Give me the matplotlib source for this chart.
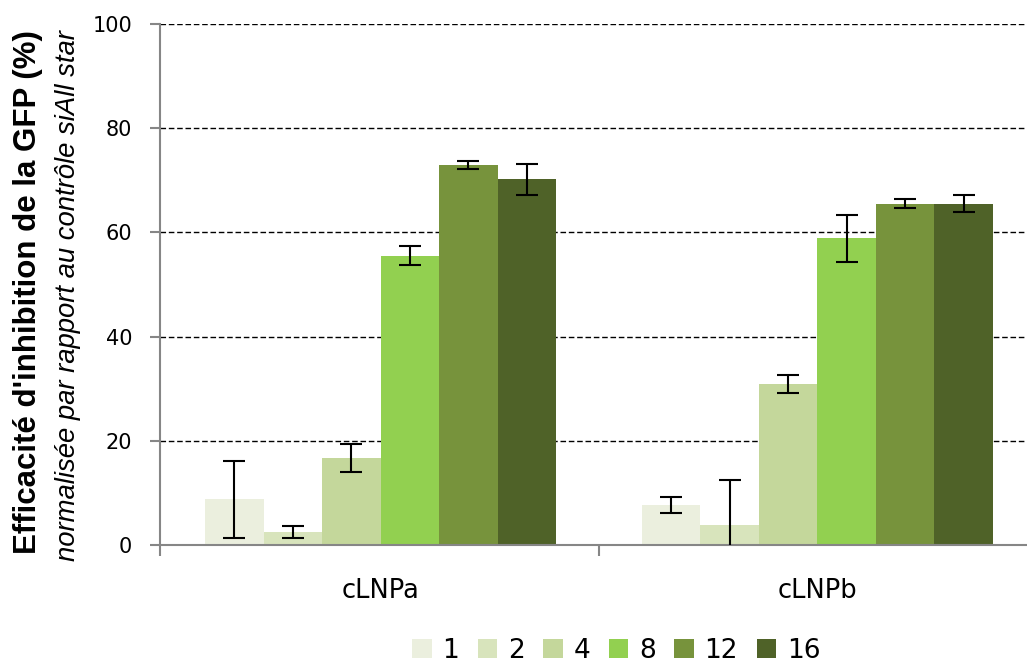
import matplotlib
matplotlib.use("Agg")
import matplotlib.pyplot as plt
import numpy as np

categories = ["cLNPa", "cLNPb"]
series_labels = ["1", "2", "4", "8", "12", "16"]
values = {
    "1": [8.8, 7.7],
    "2": [2.5, 3.8],
    "4": [16.7, 30.9],
    "8": [55.5, 58.9],
    "12": [72.9, 65.5],
    "16": [70.2, 65.5],
}
errors = {
    "1": [7.4, 1.6],
    "2": [1.2, 8.7],
    "4": [2.6, 1.7],
    "8": [1.8, 4.5],
    "12": [0.8, 0.85],
    "16": [3.0, 1.6],
}
colors = ["#EBEFDE", "#D8E4BC", "#C4D79B", "#92D050", "#77933C", "#4F6228"]
yticks = [0, 20, 40, 60, 80, 100]

plt.rcParams['font.family'] = ['DejaVu Sans']

fig = plt.figure(figsize=(10.27, 6.62), dpi=100)
ax = fig.add_axes([0.1558, 0.1767, 0.8442, 0.787])

x = np.arange(len(categories))
n = len(series_labels)
w = 0.1339
for i, s in enumerate(series_labels):
    pos = x + (i - (n - 1) / 2) * w
    ax.bar(pos, values[s], width=w, color=colors[i], label=s, zorder=2)
    ax.errorbar(pos, values[s], yerr=errors[s], fmt='none', ecolor='black',
                elinewidth=1.5, capsize=8, capthick=1.5, zorder=3)

ax.set_xlim(-0.505, 1.48)
ax.set_ylim(0, 100)
ax.set_yticks(yticks)
ax.set_yticklabels([str(v) for v in yticks], fontsize=15)
ax.yaxis.grid(True, color='black', linestyle=(0, (4, 2)), linewidth=1, zorder=0)
ax.set_axisbelow(True)

ax.set_xticks(x)
ax.set_xticklabels(categories, fontsize=18.5)
ax.tick_params(axis='x', which='major', length=0, pad=24)
ax.set_xticks([-0.505, 0.5], minor=True)
ax.tick_params(axis='x', which='minor', length=8, color='#868686', width=1.5, direction='out')
ax.tick_params(axis='y', length=7, color='#868686', width=1.5, direction='out', pad=13)

for sp in ['top', 'right']:
    ax.spines[sp].set_visible(False)
for sp in ['left', 'bottom']:
    ax.spines[sp].set_color('#868686')
    ax.spines[sp].set_linewidth(1.5)

fig.text(0.027, 0.559, "Efficacité d'inhibition de la GFP (%)", rotation=90,
         ha='center', va='center', fontsize=22.5, fontweight='bold',
         family=['Liberation Sans Narrow', 'Liberation Sans', 'DejaVu Sans'])
fig.text(0.066, 0.554, "normalisée par rapport au contrôle siAll star", rotation=90,
         ha='center', va='center', fontsize=19.8, style='italic',
         family=['Liberation Sans Narrow', 'Liberation Sans', 'DejaVu Sans'])

leg = fig.legend(loc='center', bbox_to_anchor=(0.600, 0.017), ncol=6, frameon=False,
                 fontsize=19, handlelength=0.75, handleheight=0.75,
                 handletextpad=0.4, columnspacing=0.7)

fig.savefig("out.png", dpi=100)
